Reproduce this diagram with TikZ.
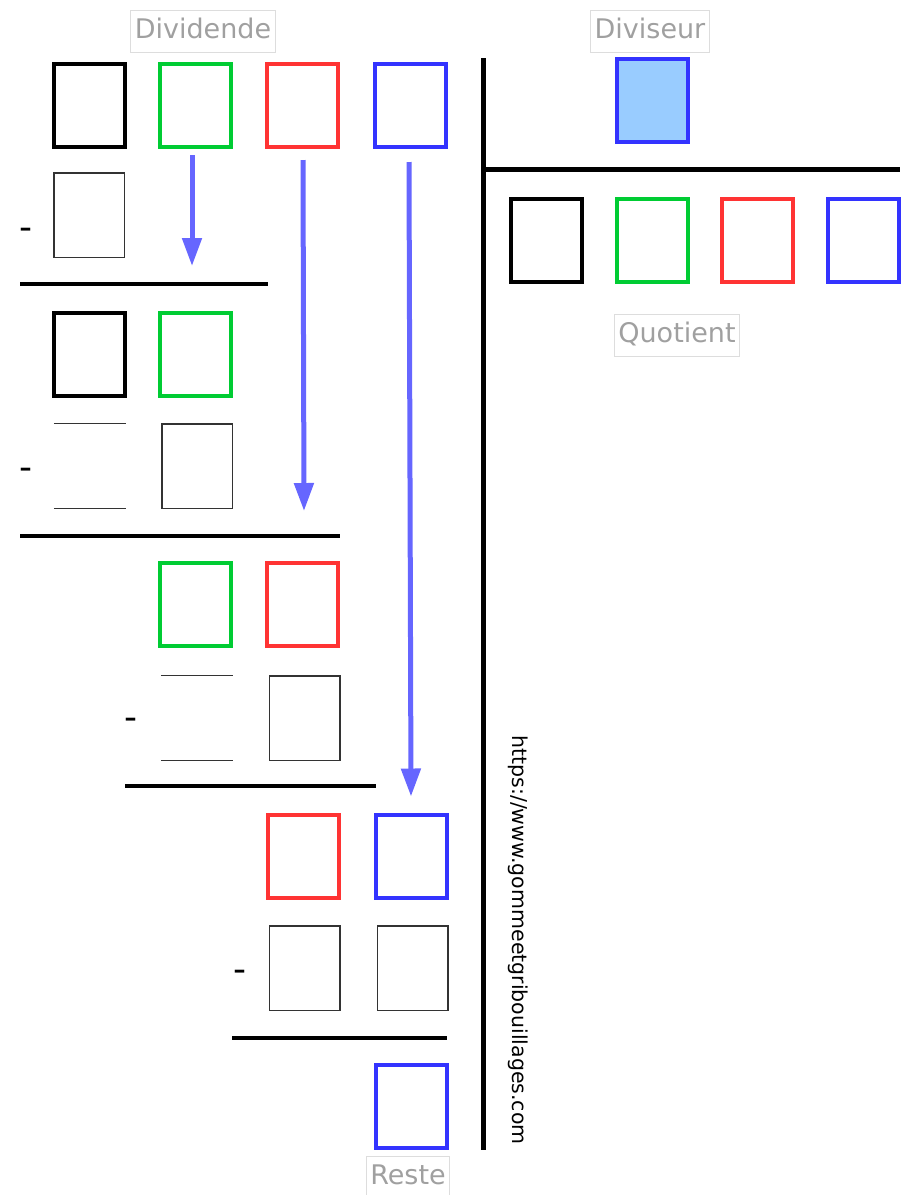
\documentclass[tikz,border=0pt]{standalone}
\usepackage{fontspec}
\setmainfont{DejaVu Sans}
\usetikzlibrary{arrows.meta,positioning}
\definecolor{vert}{HTML}{00CC33}
\definecolor{rouge}{HTML}{FF3333}
\definecolor{bleu}{HTML}{3333FF}
\definecolor{fleche}{HTML}{6666FF}
\definecolor{ciel}{HTML}{99CCFF}
\definecolor{gristexte}{HTML}{A0A0A0}
\definecolor{griscadre}{HTML}{DDDDDD}
\tikzset{
    chiffre/.style={draw, line width=4pt, minimum width=71pt, minimum height=83pt, inner sep=0pt},
    case/.style={draw=black!80, line width=1.5pt, minimum width=70.5pt, minimum height=84.5pt, inner sep=0pt},
    ouverte/.style={minimum width=72pt, minimum height=84.5pt, inner sep=0pt},
    etiquette/.style={draw=griscadre, line width=1pt, text=gristexte, font=\fontsize{27}{27}\selectfont,
      inner xsep=4pt, inner ysep=8.5pt, text height=20pt, text depth=5pt},
    moins/.style={font=\fontsize{36}{36}\selectfont, inner sep=0pt, anchor=base},
    trait/.style={line width=4pt},
    regle/.style={line width=5pt},
    descente/.style={draw=fleche, line width=5pt, -{Triangle[width=19pt,length=28pt]}}
}
\begin{document}
\begin{tikzpicture}[x=1pt,y=-1pt]
    \useasboundingbox (0,0) rectangle (910,1195);
    % dividende et diviseur
    \node [chiffre, draw=black] (d1) at (89,105) {};
    \node [chiffre, draw=vert] (d2) at (195.5,105) {};
    \node [chiffre, draw=rouge] (d3) at (302.5,105) {};
    \node [chiffre, draw=bleu] (d4) at (410.5,105) {};
    \node [chiffre, draw=bleu, fill=ciel] (div) at (652,100.5) {};
    \node [etiquette] (ldividende) at (203,31) {Dividende};
    \node [etiquette] (ldiviseur) at (650,31) {Diviseur\hspace{10pt}};
    % potence
    \draw [regle] (483,58) -- (483,1150);
    \draw [regle] (483,169) -- (900,169);
    % quotient
    \node [chiffre, draw=black] (q1) at (546,240) {};
    \node [chiffre, draw=vert] (q2) at (652,240) {};
    \node [chiffre, draw=rouge] (q3) at (757,240) {};
    \node [chiffre, draw=bleu] (q4) at (863.5,240) {};
    \node [etiquette] (lquotient) at (677,335) {Quotient};
    % premiere soustraction
    \node [moins] (m1) at (26,239.8) {-};
    \node [case] (s1) at (89,215) {};
    \draw [trait] (20,284) -- (268,284);
    \node [chiffre, draw=black] (r1) at (89,354) {};
    \node [chiffre, draw=vert] (r2) at (195.5,354) {};
    % deuxieme soustraction
    \node [moins] (m2) at (26,479.8) {-};
    \node [ouverte] (o1) at (90,466) {};
    \draw [black!80, line width=1.5pt] (o1.north west) -- (o1.north east) (o1.south west) -- (o1.south east);
    \node [case] (s2) at (197,466) {};
    \draw [trait] (20,536) -- (340,536);
    \node [chiffre, draw=vert] (r3) at (195.5,604) {};
    \node [chiffre, draw=rouge] (r4) at (302.5,604) {};
    % troisieme soustraction
    \node [moins] (m3) at (131,729.8) {-};
    \node [ouverte] (o2) at (197,718) {};
    \draw [black!80, line width=1.5pt] (o2.north west) -- (o2.north east) (o2.south west) -- (o2.south east);
    \node [case] (s3) at (304.5,718) {};
    \draw [trait] (125,786) -- (376,786);
    \node [chiffre, draw=rouge] (r5) at (303,856) {};
    \node [chiffre, draw=bleu] (r6) at (411,856) {};
    % quatrieme soustraction
    \node [moins] (m4) at (240,981.8) {-};
    \node [case] (s4) at (304.5,968) {};
    \node [case] (s5) at (412.5,968) {};
    \draw [trait] (232,1038) -- (447,1038);
    \node [chiffre, draw=bleu] (reste) at (411,1106) {};
    \node [etiquette] (lreste) at (408,1177) {Reste};
    % chiffres abaisses
    \coordinate (h1) at (192,155);
    \coordinate (b1) at (192,266);
    \coordinate (h2) at (303,160);
    \coordinate (b2) at (304,511);
    \coordinate (h3) at (409,162);
    \draw [descente] (h1) -- (b1);
    \draw [descente] (h2) -- (b2);
    \draw [descente] (h3) -- ([yshift=16pt]r6.north);
    \node [rotate=-90, font=\fontsize{20.5}{20.5}\selectfont] (site) at (518,940) {https://www.gommeetgribouillages.com};
\end{tikzpicture}
\end{document}
